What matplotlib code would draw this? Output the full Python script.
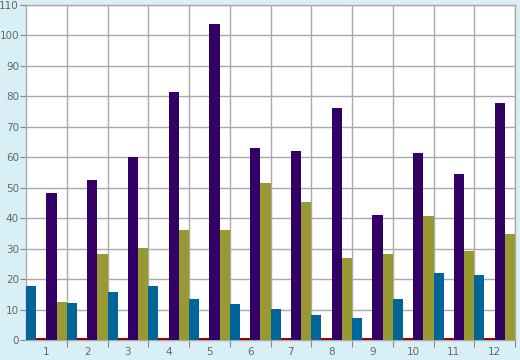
import matplotlib
matplotlib.use('Agg')
import matplotlib.pyplot as plt
import numpy as np

categories = ['1', '2', '3', '4', '5', '6', '7', '8', '9', '10', '11', '12']
blue_vals = [17.7, 12.2, 15.8, 17.7, 13.5, 11.9, 10.2, 8.2, 7.3, 13.5, 22.0, 21.4]
red_vals = [0.6, 0.6, 0.6, 0.6, 0.6, 0.6, 0.6, 0.6, 0.6, 0.6, 0.6, 0.6]
purple_vals = [48.2, 52.4, 60.0, 81.4, 103.8, 63.0, 62.0, 76.1, 41.0, 61.3, 54.5, 77.8]
olive_vals = [12.5, 28.2, 30.2, 36.0, 36.0, 51.4, 45.3, 27.0, 28.3, 40.6, 29.3, 34.8]

series = [blue_vals, red_vals, purple_vals, olive_vals]
colors = ['#006699', '#990000', '#330066', '#999933']

fig = plt.figure(figsize=(5.2, 3.6), dpi=100)
fig.patch.set_facecolor('#d9eff6')
ax = fig.add_axes([26/520, 20/360, 489/520, 335/360])
ax.set_facecolor('white')

x = np.arange(len(categories))
w = 0.25
for i, (vals, c) in enumerate(zip(series, colors)):
    ax.bar(x + i*w, vals, width=w, align='edge', color=c, zorder=3)

ax.set_xlim(0, len(categories))
ax.set_ylim(0, 110)
ax.set_yticks(np.arange(0, 111, 10))
ax.set_xticks(np.arange(1, len(categories) + 1))
ax.set_xticklabels([])
ax.set_xticks(x + 0.5, minor=True)
ax.set_xticklabels(categories, minor=True)
ax.tick_params(axis='x', which='minor', length=0, pad=5)
ax.tick_params(axis='x', which='major', length=5, color='#888888')
ax.tick_params(axis='y', length=4, color='#888888', pad=1)
for lab in ax.get_xticklabels(minor=True) + ax.get_yticklabels():
    lab.set_color('#666666')
    lab.set_fontsize(7.5)

ax.grid(True, color='#aaaaaa', linewidth=1, zorder=0)
ax.set_axisbelow(True)
for s in ax.spines.values():
    s.set_color('#aaaaaa')
    s.set_linewidth(1)
    s.set_zorder(2)

plt.savefig('out.png', dpi=100, facecolor=fig.get_facecolor())
